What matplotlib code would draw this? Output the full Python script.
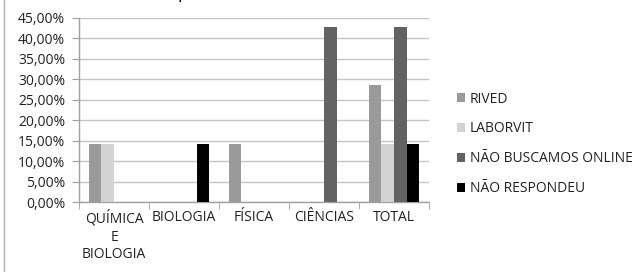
import matplotlib
matplotlib.use("Agg")
import matplotlib.pyplot as plt
import numpy as np
from matplotlib.ticker import FuncFormatter, FixedLocator

categories = ["QUÍMICA\nE\nBIOLOGIA", "BIOLOGIA", "FÍSICA", "CIÊNCIAS", "TOTAL"]
series_names = ["RIVED", "LABORVIT", "NÃO BUSCAMOS ONLINE", "NÃO RESPONDEU"]
rived = [0.1429, 0, 0.1429, 0, 0.2857]
laborvit = [0.1429, 0, 0, 0, 0.1429]
nao_buscamos = [0, 0, 0, 0.4286, 0.4286]
nao_respondeu = [0, 0.1429, 0, 0, 0.1429]
colors = ["#9a9a9a", "#d3d3d3", "#636363", "#000000"]

plt.rcParams['font.family'] = ['Open Sans', 'DejaVu Sans']
FS = 10
fig = plt.figure(figsize=(6.39, 2.72), dpi=100)
ax = fig.add_axes([79/639, 1-202/272, 350/639, 184/272])

x = np.arange(len(categories))
w = 0.18
data = [rived, laborvit, nao_buscamos, nao_respondeu]
for i, (vals, name, c) in enumerate(zip(data, series_names, colors)):
    ax.bar(x + (i - 1.5) * w, vals, width=w, color=c, label=name, zorder=3)

ax.set_xlim(-0.5, len(categories) - 0.5)
ax.set_ylim(0, 0.45)
ax.yaxis.set_major_locator(FixedLocator(np.arange(0, 0.451, 0.05)))
ax.yaxis.set_major_formatter(FuncFormatter(lambda v, p: f"{v*100:.2f}%".replace(".", ",")))
ax.grid(axis='y', color='#c4c4c4', linewidth=1, zorder=0)
ax.set_xticks(x)
ax.set_xticklabels(categories, fontsize=FS, color='#222222', linespacing=1.25)
ax.xaxis.set_minor_locator(FixedLocator(np.arange(-0.5, len(categories), 1)))
ax.tick_params(axis='x', which='major', length=0, pad=6)
ax.tick_params(axis='x', which='minor', length=5, color='#a0a0a0', direction='out')
ax.tick_params(axis='y', length=5, color='#a0a0a0', labelsize=FS, labelcolor='#222222', pad=5)
for s in ['top', 'right']:
    ax.spines[s].set_visible(False)
for s in ['left', 'bottom']:
    ax.spines[s].set_color('#a0a0a0')
    ax.spines[s].set_linewidth(1)

leg = fig.legend(loc='upper left', bbox_to_anchor=(451/639, 1-86/272), frameon=False,
                 fontsize=FS, handlelength=0.6, handleheight=0.6, labelspacing=1.07,
                 handletextpad=0.35, borderaxespad=0)
for t in leg.get_texts():
    t.set_color('#222222')

# chart border on the left
fig.add_artist(plt.Line2D([3.5/639, 3.5/639], [0, 1], color='#b0b0b0', linewidth=1))
# cropped title (only descender visible)
fig.text(183/639, 1 + 2/272, "p", fontsize=13, ha='center', va='baseline', color='#000000')

fig.savefig("out.png", dpi=100)
